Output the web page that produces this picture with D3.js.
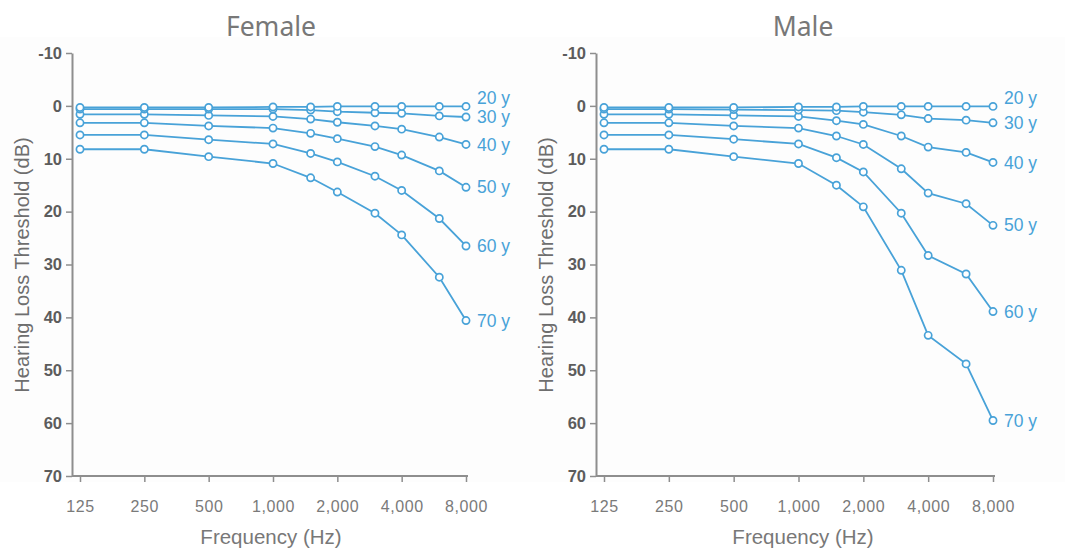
<!DOCTYPE html>
<html>
<head>
<meta charset="utf-8">
<script src="https://cdn.jsdelivr.net/npm/d3@7"></script>
<style>
  body { margin: 0; background: #fff; }
  text { font-family: "Liberation Sans", Arial, sans-serif; }
</style>
</head>
<body>
<div id="chart"></div>
<script>
var width = 1065,
    height = 548;

// frequencies measured (Hz) and the labelled axis ticks
var freqs = [125, 250, 500, 1000, 1500, 2000, 3000, 4000, 6000, 8000];
var freqTicks = [125, 250, 500, 1000, 2000, 4000, 8000];
var dbTicks = [-10, 0, 10, 20, 30, 40, 50, 60, 70];
var ages = ["20 y", "30 y", "40 y", "50 y", "60 y", "70 y"];

// hearing loss threshold (dB) per age group
var female20 = [0.3, 0.3, 0.3, 0.2, 0.2, 0.1, 0.1, 0.1, 0.1, 0.1];
var female30 = [0.6, 0.6, 0.6, 0.6, 0.8, 1.1, 1.3, 1.4, 1.9, 2.1];
var female40 = [1.6, 1.6, 1.8, 2.0, 2.5, 3.1, 3.8, 4.4, 5.9, 7.3];
var female50 = [3.2, 3.2, 3.8, 4.2, 5.2, 6.2, 7.7, 9.3, 12.3, 15.4];
var female60 = [5.5, 5.5, 6.4, 7.2, 9.0, 10.6, 13.3, 16.0, 21.3, 26.5];
var female70 = [8.2, 8.2, 9.6, 10.9, 13.6, 16.3, 20.3, 24.4, 32.4, 40.6];

var male20 = [0.3, 0.3, 0.3, 0.2, 0.2, 0.1, 0.1, 0.1, 0.1, 0.1];
var male30 = [0.6, 0.6, 0.7, 0.8, 0.9, 1.2, 1.7, 2.4, 2.7, 3.2];
var male40 = [1.6, 1.6, 1.8, 2.0, 2.8, 3.5, 5.7, 7.8, 8.8, 10.7];
var male50 = [3.2, 3.2, 3.8, 4.2, 5.7, 7.3, 11.9, 16.5, 18.5, 22.6];
var male60 = [5.5, 5.5, 6.3, 7.2, 9.8, 12.5, 20.3, 28.3, 31.8, 38.9];
var male70 = [8.2, 8.2, 9.6, 10.9, 15.0, 19.1, 31.1, 43.4, 48.8, 59.5];

var femaleSeries = [female20, female30, female40, female50, female60, female70];
var maleSeries = [male20, male30, male40, male50, male60, male70];

var blue = "#48a2d8",
    axisGrey = "#8e8e8e";

var svg = d3.select("#chart").append("svg")
  .attr("width", width)
  .attr("height", height);

// very faint backdrop behind the two plots
svg.append("rect")
  .attr("x", 0)
  .attr("y", 37)
  .attr("width", width)
  .attr("height", 445)
  .style("fill", "#fdfdfd");

var y = d3.scaleLinear()
  .domain([-10, 70])
  .range([53, 476]);

function drawPanel(title, series, left, x0, x1, titleX) {
  var x = d3.scaleLog()
    .base(2)
    .domain([125, 8000])
    .range([x0, x1]);

  var g = svg.append("g");

  // title
  g.append("text")
    .attr("x", titleX)
    .attr("y", 36)
    .attr("text-anchor", "middle")
    .style("font-family", "'Noto Sans', sans-serif")
    .style("font-size", "26.5px")
    .style("fill", "#787878")
    .text(title);

  // y axis
  var yAxis = g.append("g")
    .attr("transform", "translate(" + left + ",0)")
    .call(d3.axisLeft(y)
      .tickValues(dbTicks)
      .tickSize(6)
      .tickSizeOuter(0)
      .tickPadding(4)
      .tickFormat(function(d) { return String(d); }));
  yAxis.select(".domain").attr("stroke", axisGrey).attr("stroke-width", 2);
  yAxis.selectAll(".tick line").attr("stroke", axisGrey).attr("stroke-width", 1.5);
  yAxis.selectAll(".tick text")
    .style("font-size", "16.5px")
    .style("fill", "#5c5c5c")
    .style("font-weight", "bold");

  // x axis
  var xAxis = g.append("g")
    .attr("transform", "translate(0," + y(70) + ")")
    .call(d3.axisBottom(x)
      .tickValues(freqTicks)
      .tickSize(6)
      .tickSizeOuter(0)
      .tickPadding(19)
      .tickFormat(d3.format(",")));
  xAxis.select(".domain").remove();
  xAxis.append("line")
    .attr("x1", left)
    .attr("x2", x1 + 2)
    .attr("stroke", axisGrey)
    .attr("stroke-width", 2);
  xAxis.selectAll(".tick line").attr("stroke", axisGrey).attr("stroke-width", 1.5);
  xAxis.selectAll(".tick text")
    .style("font-size", "16px")
    .style("fill", "#7a7a7a")
    .style("letter-spacing", "0.6px");

  // axis titles
  g.append("text")
    .attr("transform", "translate(" + (left - 50) + "," + 265 + ") rotate(-90)")
    .attr("text-anchor", "middle")
    .attr("dy", "0.35em")
    .style("font-size", "20px")
    .style("fill", "#6e6e6e")
    .text("Hearing Loss Threshold (dB)");

  g.append("text")
    .attr("x", titleX)
    .attr("y", 537)
    .attr("dy", "0.35em")
    .attr("text-anchor", "middle")
    .style("font-size", "20.5px")
    .style("fill", "#787878")
    .text("Frequency (Hz)");

  var line = d3.line()
    .x(function(d, i) { return x(freqs[i]); })
    .y(function(d) { return y(d); });

  // oldest first so younger curves sit on top
  var groups = g.selectAll(".age")
    .data(series.slice().reverse())
    .enter()
    .append("g")
    .attr("class", "age");

  groups.append("path")
    .attr("d", line)
    .style("fill", "none")
    .style("stroke", blue)
    .style("stroke-width", 1.8);

  groups.selectAll("circle")
    .data(function(d) { return d; })
    .enter()
    .append("circle")
    .attr("cx", function(d, i) { return x(freqs[i]); })
    .attr("cy", function(d) { return y(d); })
    .attr("r", 3.6)
    .style("fill", "#fff")
    .style("stroke", blue)
    .style("stroke-width", 1.7);

  // end labels
  g.selectAll(".age-label")
    .data(series)
    .enter()
    .append("text")
    .attr("class", "age-label")
    .attr("x", x(8000) + 11)
    .attr("y", function(d, i) {
      // the youngest label is lifted above the crowded top curves
      return y(d[d.length - 1]) - (i === 0 ? 9 : 0);
    })
    .attr("dy", "0.35em")
    .style("font-size", "17.5px")
    .style("fill", blue)
    .text(function(d, i) { return ages[i]; });
}

drawPanel("Female", femaleSeries, 72, 80, 466, 271);
drawPanel("Male", maleSeries, 596, 604, 993, 803);
</script>
</body>
</html>
